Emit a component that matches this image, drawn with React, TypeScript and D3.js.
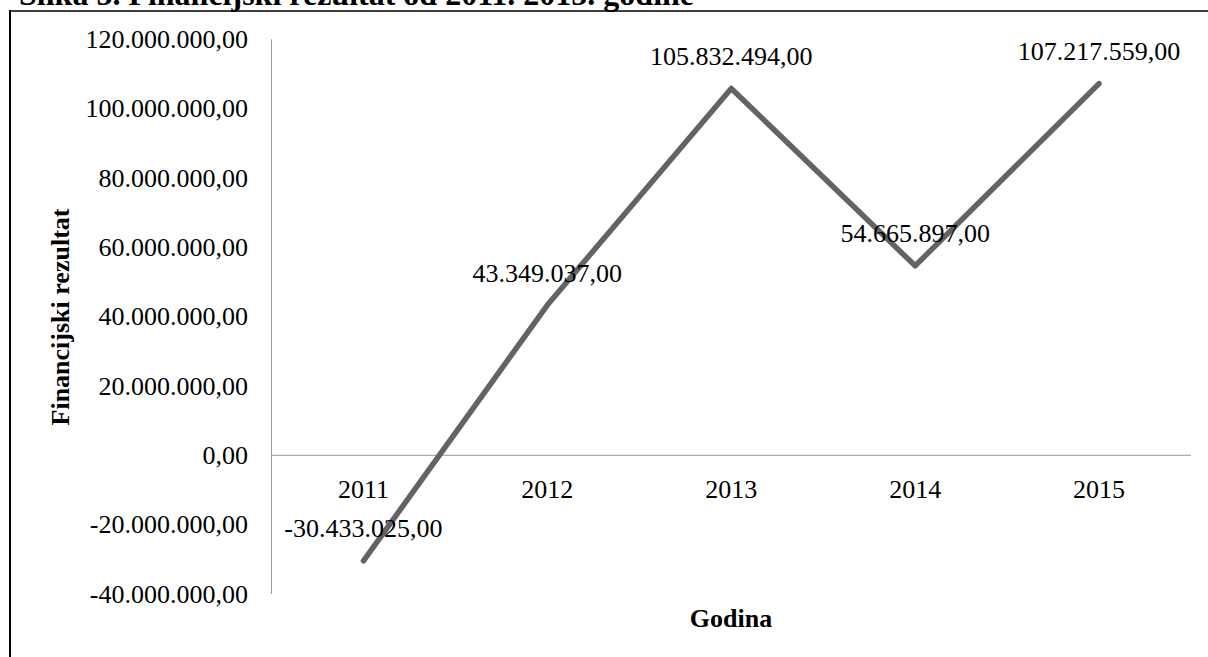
import { useMemo } from "react";
import * as d3 from "d3";

const years = ["2011", "2012", "2013", "2014", "2015"];
const results = [-30433025, 43349037, 105832494, 54665897, 107217559];
const yTicks = [-40000000, -20000000, 0, 20000000, 40000000, 60000000, 80000000, 100000000, 120000000];

const W = 1208;
const H = 657;
const FONT = "'Liberation Serif', 'Times New Roman', serif";

// 1.234.567,00 style
const fmt = (v: number) => {
  const s = d3.format(",.2f")(Math.abs(v)).replace(/,/g, "#").replace(".", ",").replace(/#/g, ".");
  return (v < 0 ? "-" : "") + s;
};

export default function App() {
  const x = useMemo(() => d3.scalePoint().domain(years).range([271.5, 1191]).padding(0.5), []);
  const y = useMemo(() => d3.scaleLinear().domain([-40000000, 120000000]).range([594, 39.3]), []);

  const line = d3
    .line<number>()
    .x((_, i) => x(years[i]) as number)
    .y((d) => y(d));

  return (
    <svg
      width={W}
      height={H}
      style={{ position: "absolute", left: 0, top: 0, background: "#fff" }}
      fontFamily={FONT}
    >
      {/* frame, runs off the page like in the source */}
      <line x1={10} y1={11} x2={W} y2={11} stroke="#000" strokeWidth={1.5} />
      <line x1={10} y1={10} x2={10} y2={H} stroke="#000" strokeWidth={2} />

      <text x={19} y={5} fontSize={32} fontWeight="bold" fill="#000">
        Slika 5. Financijski rezultat od 2011. 2015. godine
      </text>

      {/* axes */}
      <line x1={271.5} y1={y(120000000)} x2={271.5} y2={y(-40000000)} stroke="#999" strokeWidth={1} />
      <line x1={271.5} y1={y(0)} x2={1191} y2={y(0)} stroke="#999" strokeWidth={1} />

      {yTicks.map((t) => (
        <text key={t} x={248} y={y(t)} dy="0.33em" textAnchor="end" fontSize={26} fill="#000">
          {fmt(t)}
        </text>
      ))}

      {years.map((yr) => (
        <text key={yr} x={x(yr)} y={y(0) + 34} dy="0.33em" textAnchor="middle" fontSize={26} fill="#000">
          {yr}
        </text>
      ))}

      <path
        d={line(results) ?? ""}
        fill="none"
        stroke="#636363"
        strokeWidth={5.5}
        strokeLinecap="round"
        strokeLinejoin="round"
      />

      {results.map((v, i) => (
        <text
          key={years[i]}
          x={x(years[i])}
          y={y(v) - 32}
          dy="0.33em"
          textAnchor="middle"
          fontSize={26}
          fill="#000"
        >
          {fmt(v)}
        </text>
      ))}

      <text
        transform={`translate(60,317) rotate(-90)`}
        dy="0.33em"
        textAnchor="middle"
        fontSize={26}
        fontWeight="bold"
        fill="#000"
      >
        Financijski rezultat
      </text>
      <text x={731} y={618} dy="0.33em" textAnchor="middle" fontSize={26} fontWeight="bold" fill="#000">
        Godina
      </text>
    </svg>
  );
}
